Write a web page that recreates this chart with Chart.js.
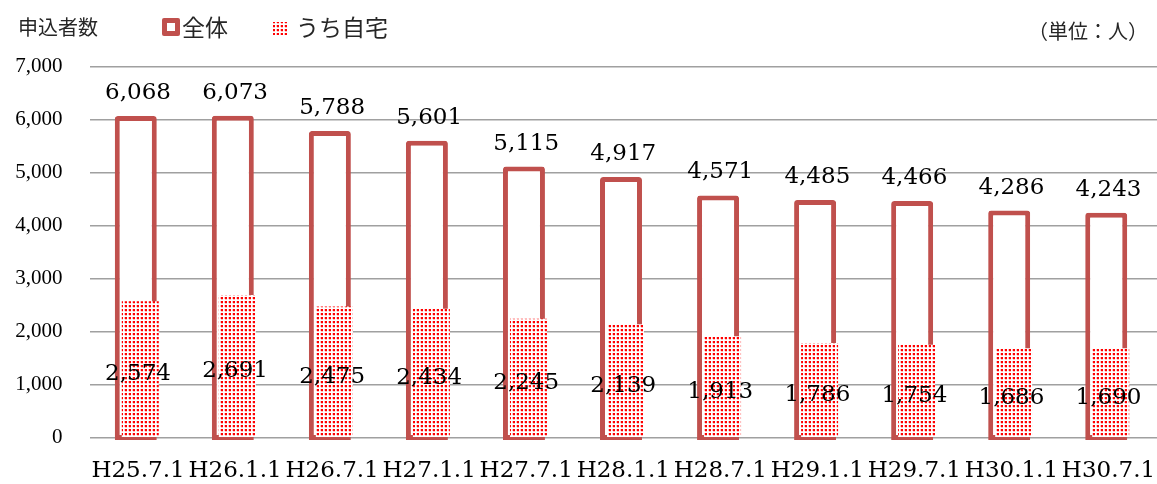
<!DOCTYPE html>
<html>
<head>
<meta charset="utf-8">
<script src="https://cdn.jsdelivr.net/npm/chart.js@4.4.1/dist/chart.umd.min.js"></script>
<style>
html,body{margin:0;padding:0;background:#fff;}
#wrap{width:1157px;height:484px;position:relative;}
</style>
</head>
<body>
<div id="wrap"><canvas id="c"></canvas></div>
<script>
// ---- data ----
const categories = ["H25.7.1","H26.1.1","H26.7.1","H27.1.1","H27.7.1","H28.1.1","H28.7.1","H29.1.1","H29.7.1","H30.1.1","H30.7.1"];
const totalValues = [6068,6073,5788,5601,5115,4917,4571,4485,4466,4286,4243];
const homeValues  = [2574,2691,2475,2434,2245,2139,1913,1786,1754,1686,1690];
const seriesNames = ["全体","うち自宅"];
const axisTitle = "申込者数";
const unitLabel = "（単位：人）";
const yMin = 0, yMax = 7000, yStep = 1000;

// ---- styles ----
const RED = "#C0504D";
const DOT = "#FF0000";
const JP_FONT = '"Noto Sans CJK JP", "Noto Sans", sans-serif';
const SERIF = '"DejaVu Serif", serif';

function makePattern(ctx){
  const p = document.createElement('canvas');
  p.width = 4; p.height = 4;
  const g = p.getContext('2d');
  g.fillStyle = '#fff'; g.fillRect(0,0,4,4);
  g.fillStyle = DOT; g.fillRect(1,1,2,2);
  g.fillStyle = 'rgba(255,0,0,0.25)'; g.fillRect(1,3,2,1); g.fillRect(0,1,1,2);
  return ctx.createPattern(p,'repeat');
}

const canvas = document.getElementById('c');
const ctx = canvas.getContext('2d');
const pattern = makePattern(ctx);

const fmt = v => Number(v).toLocaleString('en-US');

const catPct = 0.0927;

const labelsPlugin = {
  id: 'valueLabels',
  afterDatasetsDraw(chart){
    const c = chart.ctx;
    const xs = chart.scales.x, ys = chart.scales.y;
    c.save();
    c.fillStyle = '#000';
    c.font = '23px ' + SERIF;
    c.textAlign = 'center';
    c.textBaseline = 'alphabetic';
    totalValues.forEach((v,i)=>{
      const x = xs.getPixelForValue(i);
      c.fillText(fmt(v), x, ys.getPixelForValue(v) - 17);
    });
    homeValues.forEach((v,i)=>{
      const x = xs.getPixelForValue(i);
      const mid = (ys.getPixelForValue(v) + ys.getPixelForValue(0)) / 2;
      c.fillText(fmt(v), x, mid + 11);
    });
    c.restore();
  },
  afterDraw(chart){
    const c = chart.ctx;
    c.save();
    c.fillStyle = '#262626';
    c.textBaseline = 'middle';
    c.textAlign = 'left';
    c.font = '20px ' + JP_FONT;
    c.fillText(axisTitle, 18, 27);
    // legend: 全体
    c.fillStyle = RED;
    c.beginPath();
    if (c.roundRect) c.roundRect(162,18,18,18,2); else c.rect(162,18,18,18);
    c.fill();
    c.fillStyle = '#fff';
    c.fillRect(167,23,8,8);
    c.fillStyle = '#262626';
    c.font = '23px ' + JP_FONT;
    c.fillText(seriesNames[0], 182, 27);
    // legend: うち自宅
    c.fillStyle = pattern;
    c.fillRect(273,22,15,13);
    c.fillStyle = '#262626';
    c.fillText(seriesNames[1], 296, 27);
    // unit
    c.font = '20px ' + JP_FONT;
    c.textAlign = 'right';
    c.fillText(unitLabel, 1148, 31);
    c.restore();
  }
};

new Chart(ctx, {
  type: 'bar',
  data: {
    labels: categories,
    datasets: [
      { label: '_dummy', data: categories.map(()=>null), stack: 'a', order: -2,
        categoryPercentage: catPct, barPercentage: 1 },
      { label: seriesNames[1], data: homeValues, stack: 'b', order: -1,
        backgroundColor: pattern, borderWidth: 0,
        categoryPercentage: catPct, barPercentage: 37/4.5, clip: false },
      { label: seriesNames[0], data: totalValues, stack: 'a', order: 0,
        backgroundColor: '#fff', borderColor: RED, borderWidth: 5,
        borderSkipped: false, borderRadius: {topLeft:3, topRight:3, bottomLeft:0, bottomRight:0},
        base: -45,
        categoryPercentage: catPct, barPercentage: 42/4.5, clip: false }
    ]
  },
  options: {
    responsive: true,
    maintainAspectRatio: false,
    animation: false,
    layout: { padding: { top: 66.7, right: 0, bottom: 0, left: 0 } },
    plugins: { legend: { display: false }, tooltip: { enabled: false } },
    scales: {
      x: {
        grid: { display: false, drawTicks: false },
        border: { display: false },
        ticks: { color: '#000', font: { family: SERIF, size: 23 }, padding: 20, maxRotation: 0, autoSkip: false },
        afterFit(s){ s.height = 46.3; s.paddingLeft = 0; s.paddingRight = 0; }
      },
      y: {
        stacked: false,
        min: yMin, max: yMax,
        grid: { color: '#A0A0A0', lineWidth: 1.6, drawTicks: false },
        border: { display: false },
        ticks: { stepSize: yStep, color: '#000', font: { family: '"Liberation Serif", serif', size: 21 }, padding: 27,
                 callback: v => fmt(v) },
        afterFit(s){ s.width = 89.5; s.paddingTop = 0; s.paddingBottom = 0; }
      }
    }
  },
  plugins: [labelsPlugin]
});
</script>
</body>
</html>
